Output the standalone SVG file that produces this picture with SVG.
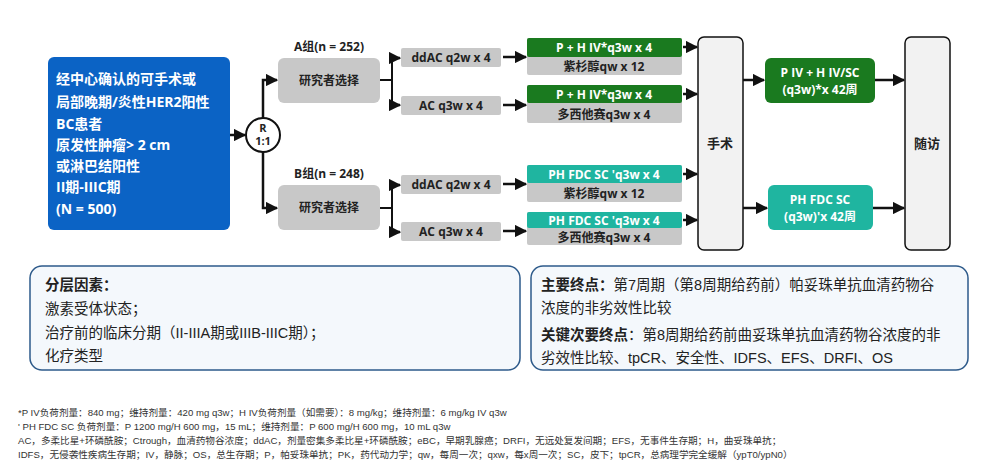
<svg xmlns="http://www.w3.org/2000/svg" width="1000" height="469" viewBox="0 0 1000 469">
<defs>
<marker id="ah" viewBox="0 0 10 10" refX="9" refY="5" markerWidth="5" markerHeight="5" orient="auto"><path d="M0,0L10,5L0,10z" fill="#111"/></marker>
<style>
text{font-family:"Open Sans","Noto Sans CJK SC",sans-serif;font-weight:bold}
.c{text-anchor:middle}
.w{fill:#fff}
.k{fill:#222}
.gray{fill:#c8c8c8}
.grn{fill:#1a7a1f}
.teal{fill:#1fb5a0}
.ln{stroke:#111;stroke-width:2;fill:none}
.ar{stroke:#111;stroke-width:2.5;fill:none;marker-end:url(#ah)}
.f{font-family:"Liberation Sans","Noto Sans CJK SC",sans-serif;font-weight:normal;font-size:9.6px;fill:#333}
.b{font-family:"Liberation Sans","Noto Sans CJK SC",sans-serif;font-weight:normal;font-size:14.5px;fill:#222}
</style>
</defs>
<rect width="1000" height="469" fill="#fff"/>
<g id="patients"><rect x="48" y="57" width="182" height="173" rx="6" fill="#0b63c5"/>
<text x="56" y="84" font-size="14" class="w">经中心确认的可手术或</text>
<text x="56" y="107" font-size="14" class="w">局部晚期/炎性HER2阳性</text>
<text x="56" y="129" font-size="14" class="w">BC患者</text>
<text x="56" y="150" font-size="14" class="w">原发性肿瘤&gt; 2 cm</text>
<text x="56" y="171" font-size="14" class="w">或淋巴结阳性</text>
<text x="56" y="192" font-size="14" class="w">II期-IIIC期</text>
<text x="56" y="214" font-size="14" class="w">(N = 500)</text></g>
<g id="rand"><circle cx="263" cy="135" r="17" fill="#fff" stroke="#111" stroke-width="2"/>
<text x="263" y="132" class="c k" font-size="11">R</text><text x="263" y="145" class="c k" font-size="11">1:1</text></g>
<g id="groupA"><text x="329" y="51" class="c k" font-size="12">A组(n = 252)</text><rect x="278" y="58" width="102" height="45" rx="6" class="gray"/><text x="329" y="85" class="c k" font-size="12">研究者选择</text></g>
<g id="groupB"><text x="329" y="178" class="c k" font-size="12">B组(n = 248)</text><rect x="278" y="185" width="102" height="45" rx="6" class="gray"/><text x="329" y="212" class="c k" font-size="12">研究者选择</text></g>
<g id="a1"><rect x="401" y="48" width="100" height="19" rx="2" class="gray"/><text x="451" y="62" class="c k" font-size="12">ddAC q2w x 4</text></g>
<g id="a2"><rect x="401" y="96" width="100" height="19" rx="2" class="gray"/><text x="451" y="110" class="c k" font-size="12">AC q3w x 4</text></g>
<g id="b1"><rect x="401" y="175" width="100" height="19" rx="2" class="gray"/><text x="451" y="189" class="c k" font-size="12">ddAC q2w x 4</text></g>
<g id="b2"><rect x="401" y="222" width="100" height="19" rx="2" class="gray"/><text x="451" y="236" class="c k" font-size="12">AC q3w x 4</text></g>
<g id="t1"><rect x="527" y="38" width="155" height="37" rx="2" class="gray"/><rect x="527" y="38" width="155" height="19" rx="2" class="grn"/><text x="604" y="52" class="c w" font-size="12">P + H IV*q3w x 4</text><text x="604" y="71" class="c k" font-size="12">紫杉醇qw x 12</text></g>
<g id="t2"><rect x="527" y="85" width="155" height="38" rx="2" class="gray"/><rect x="527" y="85" width="155" height="18" rx="2" class="grn"/><text x="604" y="99" class="c w" font-size="12">P + H IV*q3w x 4</text><text x="604" y="119" class="c k" font-size="12">多西他赛q3w x 4</text></g>
<g id="t3"><rect x="527" y="165" width="155" height="37" rx="2" class="gray"/><rect x="527" y="165" width="155" height="18" rx="2" class="teal"/><text x="604" y="179" class="c w" font-size="12">PH FDC SC 'q3w x 4</text><text x="604" y="198" class="c k" font-size="12">紫杉醇qw x 12</text></g>
<g id="t4"><rect x="527" y="212" width="155" height="33" rx="2" class="gray"/><rect x="527" y="212" width="155" height="16" rx="2" class="teal"/><text x="604" y="225" class="c w" font-size="12">PH FDC SC 'q3w x 4</text><text x="604" y="242" class="c k" font-size="12">多西他赛q3w x 4</text></g>
<g id="surgery"><rect x="698" y="37" width="45" height="213" rx="6" fill="#f2f2f2" stroke="#111" stroke-width="1.5"/><text x="720" y="148" class="c k" font-size="13">手术</text></g>
<g id="m1"><rect x="765" y="58" width="110" height="45" rx="6" class="grn"/><text x="820" y="77" class="c w" font-size="12">P IV + H IV/SC</text><text x="820" y="94" class="c w" font-size="12">(q3w)*x 42周</text></g>
<g id="m2"><rect x="768" y="185" width="105" height="45" rx="6" class="teal"/><text x="820" y="204" class="c w" font-size="12">PH FDC SC</text><text x="820" y="221" class="c w" font-size="12">(q3w)'x 42周</text></g>
<g id="follow"><rect x="905" y="37" width="45" height="213" rx="6" fill="#f2f2f2" stroke="#111" stroke-width="1.5"/><text x="927" y="148" class="c k" font-size="13">随访</text></g>
<g id="connectors">
<path class="ar" d="M230,135H245"/>
<path class="ar" d="M263,118V80H277"/>
<path class="ar" d="M263,152V208H277"/>
<path class="ln" d="M380,80H392M392,58V105"/>
<path class="ar" d="M392,58H400"/><path class="ar" d="M392,105H400"/>
<path class="ln" d="M380,208H392M392,185V232"/>
<path class="ar" d="M392,185H400"/><path class="ar" d="M392,232H400"/>
<path class="ar" d="M503,57H526"/><path class="ar" d="M503,105H526"/><path class="ar" d="M503,184H526"/><path class="ar" d="M503,231H526"/>
<path class="ar" d="M683,47H697"/><path class="ar" d="M683,94H697"/><path class="ar" d="M683,174H697"/><path class="ar" d="M683,220H697"/>
<path class="ar" d="M743,80H764"/><path class="ar" d="M743,208H767"/>
<path class="ar" d="M875,80H904"/><path class="ar" d="M873,208H904"/>
</g>
<g id="strat"><rect x="30" y="266" width="490" height="104" rx="12" fill="#f4f8fc" stroke="#2d5a8a" stroke-width="1.5"/>
<text x="45" y="290" class="b" style="font-weight:bold">分层因素：</text>
<text x="45" y="314" class="b">激素受体状态；</text>
<text x="45" y="338" class="b">治疗前的临床分期（II-IIIA期或IIIB-IIIC期）；</text>
<text x="45" y="361" class="b">化疗类型</text></g>
<g id="endpoints"><rect x="531" y="266" width="437" height="104" rx="12" fill="#f4f8fc" stroke="#2d5a8a" stroke-width="1.5"/>
<text x="541" y="290" class="b"><tspan style="font-weight:bold">主要终点：</tspan>第7周期（第8周期给药前）帕妥珠单抗血清药物谷</text>
<text x="541" y="313" class="b">浓度的非劣效性比较</text>
<text x="541" y="340" class="b"><tspan style="font-weight:bold">关键次要终点</tspan>：第8周期给药前曲妥珠单抗血清药物谷浓度的非</text>
<text x="541" y="363" class="b">劣效性比较、tpCR、安全性、IDFS、EFS、DRFI、OS</text></g>
<g id="notes">
<text x="18" y="416" class="f">*P IV负荷剂量：840 mg；维持剂量：420 mg q3w；H IV负荷剂量（如需要）：8 mg/kg；维持剂量：6 mg/kg IV q3w</text>
<text x="18" y="430" class="f">' PH FDC SC 负荷剂量：P 1200 mg/H 600 mg，15 mL；维持剂量：P 600 mg/H 600 mg，10 mL q3w</text>
<text x="18" y="444" class="f">AC，多柔比星+环磷酰胺；Ctrough，血清药物谷浓度；ddAC，剂量密集多柔比星+环磷酰胺；eBC，早期乳腺癌；DRFI，无远处复发间期；EFS，无事件生存期；H，曲妥珠单抗；</text>
<text x="18" y="458" class="f">IDFS，无侵袭性疾病生存期；IV，静脉；OS，总生存期；P，帕妥珠单抗；PK，药代动力学；qw，每周一次；qxw，每x周一次；SC，皮下；tpCR，总病理学完全缓解（ypT0/ypN0）</text>
</g>
</svg>
